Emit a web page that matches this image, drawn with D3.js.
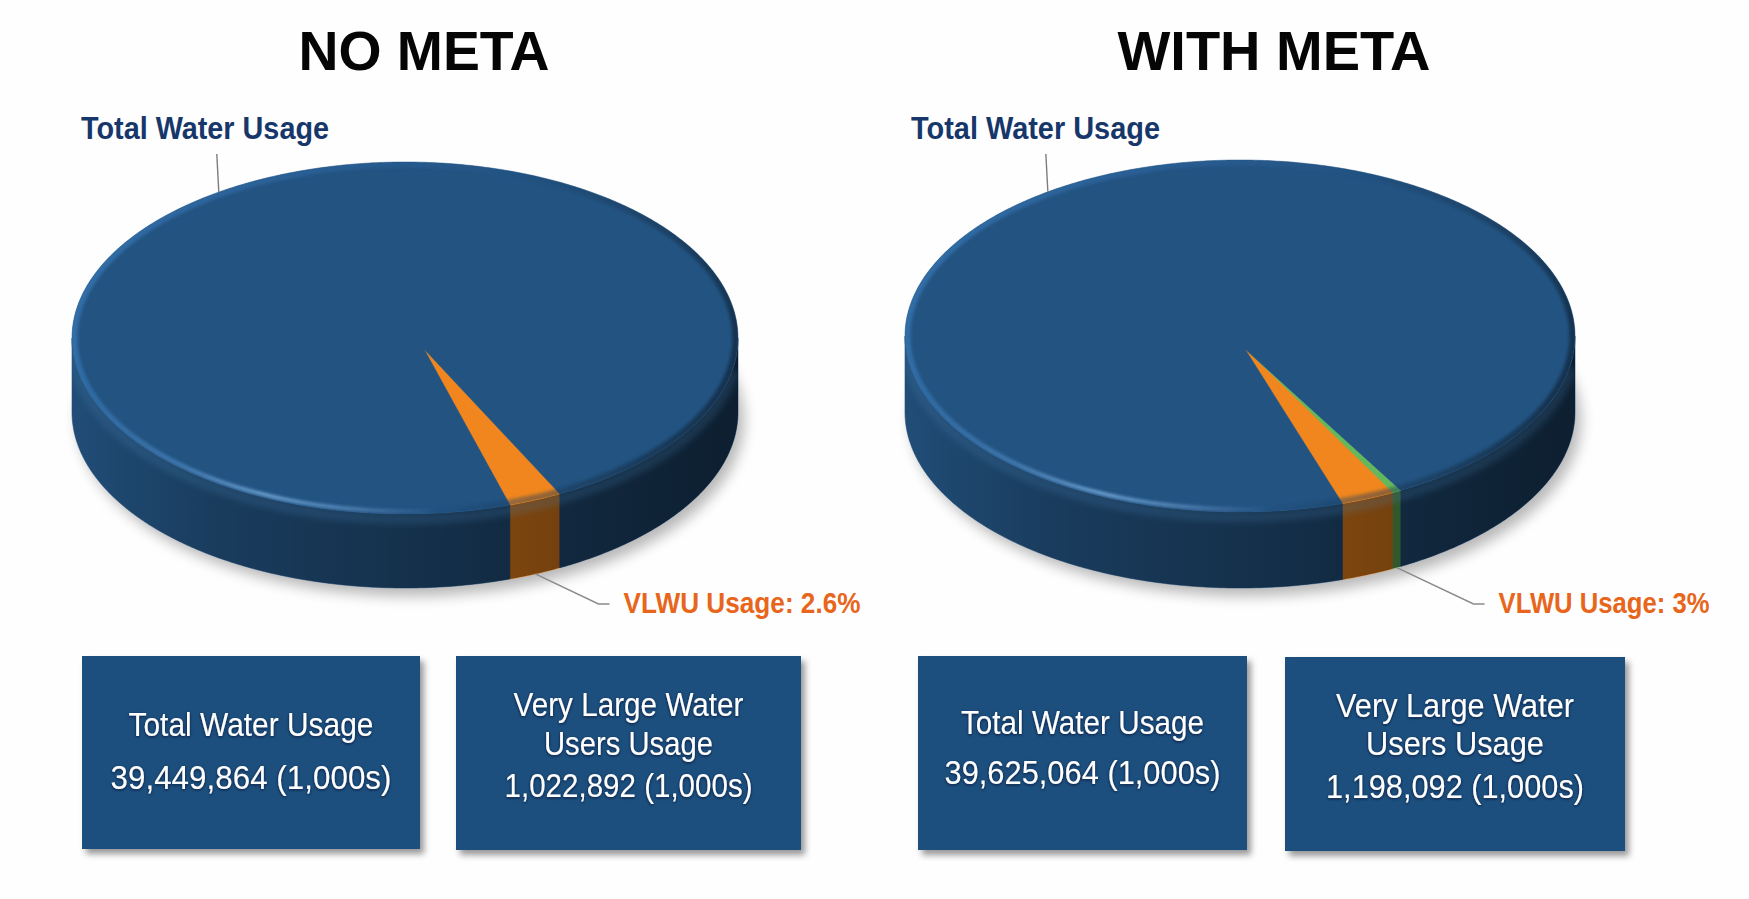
<!DOCTYPE html>
<html>
<head>
<meta charset="utf-8">
<script src="https://cdn.jsdelivr.net/npm/d3@7"></script>
<style>
  body { margin: 0; background: #fefefe; }
  svg { display: block; font-family: "Liberation Sans", Arial, sans-serif; }
</style>
</head>
<body>
<div id="chart"></div>
<script>
// ---- data ----
const panelTitles = ["NO META", "WITH META"];
const sliceNames = ["VLWU (meta)", "VLWU", "Rest of Total Water Usage"];
// slices in clockwise order, thousands of gallons
const sliceValues = [
  [0, 1022892, 38426972],
  [175200, 1022892, 38426972]
];
const totalUsage = [39449864, 39625064];
const vlwuUsage = [1022892, 1198092];
const vlwuPercent = ["2.6%", "3%"];
const boxTitles = [["Total Water Usage"], ["Very Large Water", "Users Usage"]];

// ---- layout / style ----
const W = 1749, H = 899;
const sliceColors = ["#62b85a", "#f0861d", "#235381"];

// each pie is a tilted disk: ellipse + apex offset for the perspective
const pieLayout = [
  { cx: 405, cy: 338, rx: 333, ry: 176, depth: 74, apexDx: 19, apexDy: 11, startDeg: 152.3, totalLeaderDeg: -34 },
  { cx: 1240, cy: 336, rx: 335, ry: 176, depth: 76, apexDx: 5, apexDy: 13, startDeg: 151.3, totalLeaderDeg: -35 }
];
const titleLayout = [{ x: 424, y: 70, w: 251 }, { x: 1274, y: 70, w: 313 }];
const totalLabelLayout = [{ x: 81, y: 139, w: 248 }, { x: 911, y: 139, w: 249 }];
const vlwuLabelWidth = [237, 211];
const boxLayout = [
  [{ x: 82, y: 656, w: 338, h: 193, lines: [{ y: 736, w: 245 }, { y: 789, w: 281 }] },
   { x: 456, y: 656, w: 345, h: 194, lines: [{ y: 716, w: 230 }, { y: 755, w: 169 }, { y: 797, w: 248 }] }],
  [{ x: 918, y: 656, w: 329, h: 194, lines: [{ y: 734, w: 243 }, { y: 784, w: 276 }] },
   { x: 1285, y: 657, w: 340, h: 194, lines: [{ y: 717, w: 238 }, { y: 755, w: 178 }, { y: 798, w: 258 }] }]
];

const fmt = d3.format(",");
const line = d3.line();

const svg = d3.select("#chart").append("svg")
  .attr("width", W)
  .attr("height", H);

svg.append("rect").attr("width", W).attr("height", H).attr("fill", "#fefefe");

const defs = svg.append("defs");

// filters
defs.append("filter").attr("id", "pieShadow")
  .attr("x", "-20%").attr("y", "-20%").attr("width", "140%").attr("height", "140%")
  .append("feGaussianBlur").attr("stdDeviation", 7);

defs.append("filter").attr("id", "soft")
  .attr("x", "-10%").attr("y", "-10%").attr("width", "120%").attr("height", "120%")
  .append("feGaussianBlur").attr("stdDeviation", 1.4);

defs.append("filter").attr("id", "softer")
  .attr("x", "-10%").attr("y", "-10%").attr("width", "120%").attr("height", "120%")
  .append("feGaussianBlur").attr("stdDeviation", 3);

defs.append("filter").attr("id", "boxShadow")
  .attr("x", "-10%").attr("y", "-10%").attr("width", "125%").attr("height", "130%")
  .append("feDropShadow")
  .attr("dx", 4).attr("dy", 5).attr("stdDeviation", 3)
  .attr("flood-color", "#000").attr("flood-opacity", 0.4);

defs.append("filter").attr("id", "textShadow")
  .attr("x", "-10%").attr("y", "-30%").attr("width", "120%").attr("height", "160%")
  .append("feDropShadow")
  .attr("dx", 0).attr("dy", 1).attr("stdDeviation", 1.6)
  .attr("flood-color", "#07172a").attr("flood-opacity", 0.75);

// draw one 3D pie
function drawPie(i) {
  const L = pieLayout[i];
  const g = svg.append("g").attr("class", "pie pie-" + i);

  // point on the rim at angle a (clockwise from 12 o'clock)
  const rim = (a, dy = 0, shrink = 0) =>
    [L.cx + (L.rx - shrink) * Math.sin(a), L.cy - (L.ry - shrink) * Math.cos(a) + dy];
  const arcPts = (a0, a1, dy = 0, shrink = 0) => {
    const n = Math.max(2, Math.ceil(Math.abs(a1 - a0) / 0.01));
    return d3.range(n + 1).map(k => rim(a0 + (a1 - a0) * k / n, dy, shrink));
  };
  const apex = [L.cx + L.apexDx, L.cy + L.apexDy];

  const start = L.startDeg * Math.PI / 180;
  const pie = d3.pie().sort(null).value(d => d)
    .startAngle(start).endAngle(start + 2 * Math.PI);
  const arcs = pie(sliceValues[i]);

  // side shading gradient, dark toward the right
  const shadeId = "sideShade" + i;
  const sg = defs.append("linearGradient").attr("id", shadeId)
    .attr("gradientUnits", "userSpaceOnUse")
    .attr("x1", L.cx - L.rx).attr("x2", L.cx + L.rx).attr("y1", 0).attr("y2", 0);
  [[0, 0.08], [0.22, 0.28], [0.6, 0.46], [1, 0.63]].forEach(s =>
    sg.append("stop").attr("offset", s[0]).attr("stop-color", "#000").attr("stop-opacity", s[1]));

  // rim bevel gradient, light upper left, dark right
  const rimId = "rimShade" + i;
  const rg = defs.append("linearGradient").attr("id", rimId)
    .attr("gradientUnits", "userSpaceOnUse")
    .attr("x1", L.cx - L.rx).attr("y1", L.cy).attr("x2", L.cx + L.rx).attr("y2", L.cy + L.ry);
  [[0, "#3474b0", 0.8], [0.45, "#2b62a0", 0.3], [0.75, "#12314f", 0.45], [1, "#0c2136", 0.85]].forEach(s =>
    rg.append("stop").attr("offset", s[0]).attr("stop-color", s[1]).attr("stop-opacity", s[2]));

  // front highlight fades in and out along x
  const hlId = "highlight" + i;
  const hg = defs.append("linearGradient").attr("id", hlId)
    .attr("gradientUnits", "userSpaceOnUse")
    .attr("x1", L.cx - L.rx + 20).attr("x2", L.cx + 0.1 * L.rx).attr("y1", 0).attr("y2", 0);
  [[0, 0], [0.25, 0.3], [0.5, 0.85], [0.7, 0.55], [1, 0]].forEach(s =>
    hg.append("stop").attr("offset", s[0]).attr("stop-color", "#8ec0ea").attr("stop-opacity", s[1]));

  const clipId = "topClip" + i;
  defs.append("clipPath").attr("id", clipId)
    .append("ellipse").attr("cx", L.cx).attr("cy", L.cy).attr("rx", L.rx).attr("ry", L.ry);

  // soft shadow under the disk
  g.append("ellipse")
    .attr("cx", L.cx + 6).attr("cy", L.cy + L.depth + 8)
    .attr("rx", L.rx).attr("ry", L.ry)
    .attr("fill", "#000").attr("opacity", 0.28)
    .attr("filter", "url(#pieShadow)");

  // side walls, only the front half (pi/2 .. 3pi/2) is visible
  arcs.filter(d => d.value > 0).forEach(d => {
    [-1, 0, 1, 2].forEach(k => {
      const lo = Math.max(d.startAngle, Math.PI / 2 + 2 * Math.PI * k);
      const hi = Math.min(d.endAngle, 3 * Math.PI / 2 + 2 * Math.PI * k);
      if (hi <= lo) return;
      const pts = arcPts(lo, hi, 0).concat(arcPts(hi, lo, L.depth));
      g.append("path")
        .attr("d", line(pts) + "Z")
        .attr("fill", sliceColors[d.index])
        .attr("stroke", sliceColors[d.index]).attr("stroke-width", 0.6);
    });
  });

  // darken the whole side
  const front = arcPts(Math.PI / 2, 3 * Math.PI / 2, 0).concat(arcPts(3 * Math.PI / 2, Math.PI / 2, L.depth));
  g.append("path").attr("d", line(front) + "Z").attr("fill", "url(#" + shadeId + ")");

  // rounded edge: a soft light band just under the rim
  const sideClipId = "sideClip" + i;
  defs.append("clipPath").attr("id", sideClipId)
    .append("path").attr("d", line(front) + "Z");
  g.append("path")
    .attr("d", line(arcPts(Math.PI * 0.55, Math.PI * 1.5, 5)))
    .attr("fill", "none")
    .attr("stroke", "#4a82b8").attr("stroke-opacity", 0.22).attr("stroke-width", 10)
    .attr("clip-path", "url(#" + sideClipId + ")")
    .attr("filter", "url(#softer)");

  // top wedges
  arcs.filter(d => d.value > 0).forEach(d => {
    const pts = [apex].concat(arcPts(d.startAngle, d.endAngle, 0));
    g.append("path")
      .attr("class", "slice")
      .attr("d", line(pts) + "Z")
      .attr("fill", sliceColors[d.index])
      .attr("stroke", sliceColors[d.index]).attr("stroke-width", 0.5)
      .attr("stroke-linejoin", "round");
  });

  // bevel around the top edge
  g.append("ellipse")
    .attr("cx", L.cx).attr("cy", L.cy).attr("rx", L.rx - 2).attr("ry", L.ry - 2)
    .attr("fill", "none")
    .attr("stroke", "url(#" + rimId + ")").attr("stroke-width", 7)
    .attr("clip-path", "url(#" + clipId + ")")
    .attr("filter", "url(#soft)");

  // highlight on the front rim
  g.append("path")
    .attr("d", line(arcPts(Math.PI * 0.97, Math.PI * 1.46, 0, 3)))
    .attr("fill", "none")
    .attr("stroke", "url(#" + hlId + ")").attr("stroke-width", 2.6)
    .attr("filter", "url(#soft)");

  // leader for "Total Water Usage"
  const pt = rim(L.totalLeaderDeg * Math.PI / 180);
  g.append("path")
    .attr("d", line([pt, [pt[0] - 2, 154]]))
    .attr("stroke", "#7d7d7d").attr("stroke-width", 1.4).attr("fill", "none");

  g.append("text")
    .attr("x", totalLabelLayout[i].x).attr("y", totalLabelLayout[i].y)
    .attr("textLength", totalLabelLayout[i].w).attr("lengthAdjust", "spacingAndGlyphs")
    .style("font-size", "31px").style("font-weight", "bold")
    .attr("fill", "#17376b")
    .text("Total Water Usage");

  // leader for the VLWU label, anchored on the first VLWU slice drawn
  const anchor = arcs.find(d => d.index < 2 && d.value > 0);
  const mid = (anchor.startAngle + anchor.endAngle) / 2;
  const pb = rim(mid, L.depth);
  const elbowY = 604;
  const elbowX = pb[0] + (elbowY - pb[1]) / 0.475;
  g.append("path")
    .attr("d", line([pb, [elbowX, elbowY], [elbowX + 11, elbowY]]))
    .attr("stroke", "#8a8a8a").attr("stroke-width", 1.4).attr("fill", "none");

  g.append("text")
    .attr("x", elbowX + 25).attr("y", 612.5)
    .attr("textLength", vlwuLabelWidth[i]).attr("lengthAdjust", "spacingAndGlyphs")
    .style("font-size", "29px").style("font-weight", "bold")
    .attr("fill", "#e8661c")
    .text("VLWU Usage: " + vlwuPercent[i]);

  // panel title
  svg.append("text")
    .attr("x", titleLayout[i].x).attr("y", titleLayout[i].y)
    .attr("text-anchor", "middle")
    .attr("textLength", titleLayout[i].w).attr("lengthAdjust", "spacingAndGlyphs")
    .style("font-size", "56px").style("font-weight", "bold")
    .attr("fill", "#050505")
    .text(panelTitles[i]);
}

// the two value boxes under each pie
function drawBoxes(i) {
  const values = [totalUsage[i], vlwuUsage[i]];
  boxLayout[i].forEach((b, j) => {
    const g = svg.append("g").attr("class", "box");
    g.append("rect")
      .attr("x", b.x).attr("y", b.y).attr("width", b.w).attr("height", b.h)
      .attr("fill", "#1f4f7e")
      .attr("filter", "url(#boxShadow)");

    const lines = boxTitles[j].concat([fmt(values[j]) + " (1,000s)"]);
    g.selectAll("text")
      .data(lines)
      .enter()
      .append("text")
        .attr("x", b.x + b.w / 2)
        .attr("y", (d, k) => b.lines[k].y)
        .attr("text-anchor", "middle")
        .attr("textLength", (d, k) => b.lines[k].w)
        .attr("lengthAdjust", "spacingAndGlyphs")
        .style("font-size", "34px")
        .attr("fill", "#ffffff")
        .attr("filter", "url(#textShadow)")
        .text(d => d);
  });
}

[0, 1].forEach(i => { drawPie(i); drawBoxes(i); });
</script>
</body>
</html>
